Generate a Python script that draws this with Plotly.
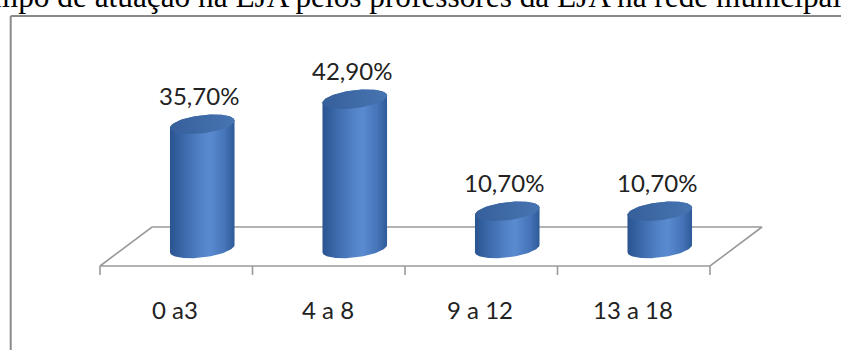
import math
import plotly.graph_objects as go

# ---- data ----
categories = ["0 a3", "4 a 8", "9 a 12", "13 a 18"]
percent = [35.7, 42.9, 10.7, 10.7]
title_text = "Tempo de atuação na EJA pelos professores da EJA na rede municipal"

# ---- page / projection geometry ----
W, H = 841, 350
PX_X = 152.5          # pixels per category slot
PX_Y = 3.48           # pixels per percentage point
X0_PX = 176.25        # pixel x of first category centre
Y0_PX = 248.5         # pixel y of the cylinder bases
FLOOR_FRONT = -(266 - Y0_PX) / PX_Y
DEPTH_X = 52 / PX_X
DEPTH_Y = 39 / PX_Y
BAR_DX = 26 / PX_X    # cylinders stand half-way into the floor
TICK_LEN = 9 / PX_Y

RAD_A, RAD_B, TILT = 32.5, 9.0, math.radians(7)

FLOOR_COLOR = "#9a9a9a"
BODY_SCALE = [[0, "#2a5490"], [0.12, "#34609f"], [0.45, "#5080c4"],
              [0.62, "#5a8ad0"], [0.85, "#4574b8"], [1, "#2e5a98"]]
TOP_SCALE = [[0, "#365f9a"], [1, "#4775b2"]]
LABEL_FONT = dict(family="Lato", size=24, color="#222222")

fig = go.Figure()


def ellipse_offset(t):
    ox = RAD_A * math.cos(t) * math.cos(TILT) - RAD_B * math.sin(t) * math.sin(TILT)
    oy = RAD_A * math.cos(t) * math.sin(TILT) + RAD_B * math.sin(t) * math.cos(TILT)
    return ox / PX_X, oy / PX_Y


def arc(cx, cy, t_from, t_to, n=60):
    xs, ys = [], []
    for k in range(n + 1):
        t = t_from + (t_to - t_from) * k / n
        dx, dy = ellipse_offset(t)
        xs.append(cx + dx)
        ys.append(cy + dy)
    return xs, ys


# floor parallelogram
n = len(categories)
fx = [-0.5, n - 0.5, n - 0.5 + DEPTH_X, -0.5 + DEPTH_X, -0.5]
fy = [FLOOR_FRONT, FLOOR_FRONT, FLOOR_FRONT + DEPTH_Y, FLOOR_FRONT + DEPTH_Y, FLOOR_FRONT]
fig.add_trace(go.Scatter(x=fx, y=fy, mode="lines", line=dict(color=FLOOR_COLOR, width=1.6),
                         hoverinfo="skip"))

# category boundary ticks
tx, ty = [], []
for k in range(n + 1):
    tx += [k - 0.5, k - 0.5, None]
    ty += [FLOOR_FRONT, FLOOR_FRONT - TICK_LEN, None]
fig.add_trace(go.Scatter(x=tx, y=ty, mode="lines", line=dict(color=FLOOR_COLOR, width=1.6),
                         hoverinfo="skip"))

# cylinders
t0 = math.atan2(-RAD_B * math.sin(TILT), RAD_A * math.cos(TILT))
for i, v in enumerate(percent):
    cx = i + BAR_DX
    bx, by = arc(cx, 0, t0 + math.pi, t0 + 2 * math.pi)
    ux, uy = arc(cx, v, t0, t0 + math.pi)
    fig.add_trace(go.Scatter(x=bx + ux + [bx[0]], y=by + uy + [by[0]], mode="lines",
                             fill="toself", line=dict(width=0),
                             fillgradient=dict(type="horizontal", colorscale=BODY_SCALE),
                             hoverinfo="skip"))
    ex, ey = arc(cx, v, 0, 2 * math.pi, 120)
    fig.add_trace(go.Scatter(x=ex, y=ey, mode="lines", fill="toself", line=dict(width=0),
                             fillgradient=dict(type="horizontal", colorscale=TOP_SCALE),
                             hoverinfo="skip"))
    fig.add_annotation(x=cx, y=v, xref="x", yref="y", showarrow=False,
                       text=f"{v:.2f}".replace(".", ",") + "%", font=LABEL_FONT,
                       yanchor="middle", yshift=28.5, xshift=-3)

# category labels
for i, c in enumerate(categories):
    fig.add_annotation(x=i, y=FLOOR_FRONT, xref="x", yref="y", showarrow=False,
                       text=c, font=LABEL_FONT, yanchor="middle", yshift=-43, xshift=-1)

# outer frame
FRAME_X = 10.7 / W
FRAME_Y = 1 - 16 / H
fig.add_shape(type="line", xref="paper", yref="paper", x0=FRAME_X, x1=FRAME_X,
              y0=-0.2, y1=FRAME_Y, line=dict(color="#8a8a8a", width=2))
fig.add_shape(type="line", xref="paper", yref="paper", x0=FRAME_X, x1=1.2,
              y0=FRAME_Y, y1=FRAME_Y, line=dict(color="#8a8a8a", width=2))

# heading (runs past the page edges)
fig.add_annotation(x=-39.4 / W, y=1 - 16.3 / H, xref="paper", yref="paper",
                   xanchor="left", yanchor="bottom", showarrow=False, text=title_text,
                   font=dict(family="Liberation Serif", size=31.3, color="#000000"))

fig.update_layout(
    width=W, height=H, margin=dict(l=0, r=0, t=0, b=0),
    paper_bgcolor="white", plot_bgcolor="white", showlegend=False,
    xaxis=dict(range=[-X0_PX / PX_X, (W - X0_PX) / PX_X], visible=False, fixedrange=True),
    yaxis=dict(range=[(Y0_PX - H) / PX_Y, Y0_PX / PX_Y], visible=False, fixedrange=True),
)

fig.write_html("out.html")
